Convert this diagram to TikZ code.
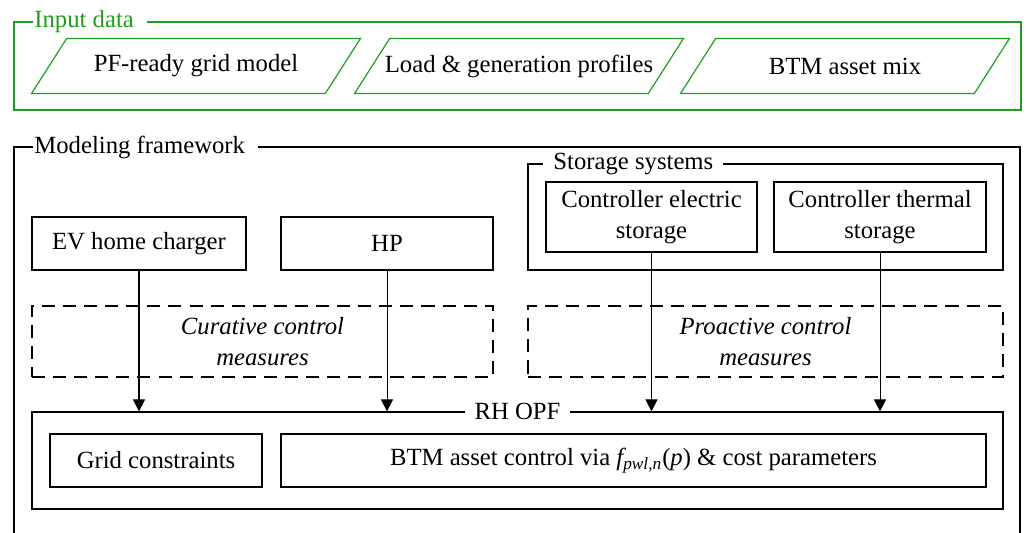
\documentclass[tikz,border=0pt]{standalone}
\usepackage{fontspec}
\setmainfont{Liberation Serif}
\newfontfamily\figserif{Liberation Serif}
\usetikzlibrary{arrows.meta}
\definecolor{inputgreen}{RGB}{30,160,30}
\newcommand{\figfont}{\figserif\fontsize{12.3}{15.2}\selectfont}

\begin{document}
\begin{tikzpicture}[
        frame/.style={draw, line width=0.6pt, inner sep=0pt},
        box/.style={draw, line width=0.6pt, align=center, inner sep=0pt, font=\figfont},
        datain/.style={minimum width=5.1275cm, minimum height=0.945cm, inner sep=0pt, font=\figfont},
        dataline/.style={draw=inputgreen, line width=0.6pt},
        measure/.style={draw, line width=0.6pt, dash pattern=on 6.5pt off 4pt, align=center, inner sep=0pt, font=\figfont\itshape},
        grptitle/.style={fill=white, inner ysep=1pt, inner xsep=5pt, font=\figfont},
        arr/.style={line width=0.5pt, -{Triangle[length=6pt, width=6pt]}}
    ]
        \useasboundingbox (0,0) rectangle (17.9725,-9.3275);

        % input data
        \node[frame, draw=inputgreen, minimum width=17.6225cm, minimum height=1.54cm] (input) at (9.056,-1.155) {};
        \node[grptitle, anchor=west, inner xsep=0.5pt, text=inputgreen] (intitle) at (0.5775,-0.385) {Input data\enspace};
        \node[datain] (grid)   at (3.43,-1.155)    {PF-ready grid model};
        \node[datain] (prof)   at (9.0825,-1.155)  {Load \& generation profiles};
        \node[datain] (btmmix) at (14.7875,-1.155) {BTM asset mix};
        % slanted outlines of the data blocks
        \foreach \blk in {grid, prof, btmmix}
            \draw[dataline] ([xshift=-0.30625cm]\blk.south west) -- ([xshift=0.30625cm]\blk.north west)
                -- ([xshift=0.30625cm]\blk.north east) -- ([xshift=-0.30625cm]\blk.south east) -- cycle;

        % modeling framework
        \node[frame, minimum width=17.605cm, minimum height=7.2275cm] (model) at (9.0475,-6.18625) {};
        \node[grptitle, anchor=west, inner xsep=0.5pt] (modtitle) at (0.5775,-2.5725) {Modeling framework\enspace};

        \node[box, minimum width=3.745cm, minimum height=0.9275cm] (ev) at (2.4325,-4.26125) {EV home charger};
        \node[box, minimum width=3.71cm, minimum height=0.9275cm]  (hp) at (6.7725,-4.26125) {HP};

        \node[frame, minimum width=8.3125cm, minimum height=1.855cm] (storage) at (13.39625,-3.7975) {};
        \node[grptitle, anchor=west] (sttitle) at (9.5025,-2.87) {Storage systems};
        \node[box, minimum width=3.6925cm, minimum height=1.225cm] (elec)  at (11.40125,-3.7975) {Controller electric\\storage};
        \node[box, minimum width=3.71cm, minimum height=1.225cm]   (therm) at (15.4,-3.7975)     {Controller thermal\\storage};

        \node[measure, minimum width=8.0675cm, minimum height=1.2425cm] (curative)  at (4.59375,-5.97625)  {Curative control\\measures};
        \node[measure, minimum width=8.3125cm, minimum height=1.2425cm] (proactive) at (13.39625,-5.97625) {Proactive control\\measures};

        % RH OPF
        \node[frame, minimum width=16.9925cm, minimum height=1.6975cm] (rhopf) at (9.05625,-8.05875) {};
        \node[grptitle] (rhtitle) at (rhopf.north) {RH OPF};
        \node[box, minimum width=3.71cm, minimum height=0.9275cm]    (gridc) at (2.73,-8.05875)     {Grid constraints};
        \node[box, minimum width=12.3375cm, minimum height=0.9275cm] (btmc)  at (11.08625,-8.05875)
            {BTM asset control via {\itshape f}\textsubscript{\itshape pwl,n}({\itshape p}) \& cost parameters};

        % control signals
        \draw[arr] (ev.south)    -- (ev |- rhopf.north);
        \draw[arr] (hp.south)    -- (hp |- rhopf.north);
        \draw[arr] (elec.south)  -- (elec |- rhopf.north);
        \draw[arr] (therm.south) -- (therm |- rhopf.north);
    \end{tikzpicture}
\end{document}
